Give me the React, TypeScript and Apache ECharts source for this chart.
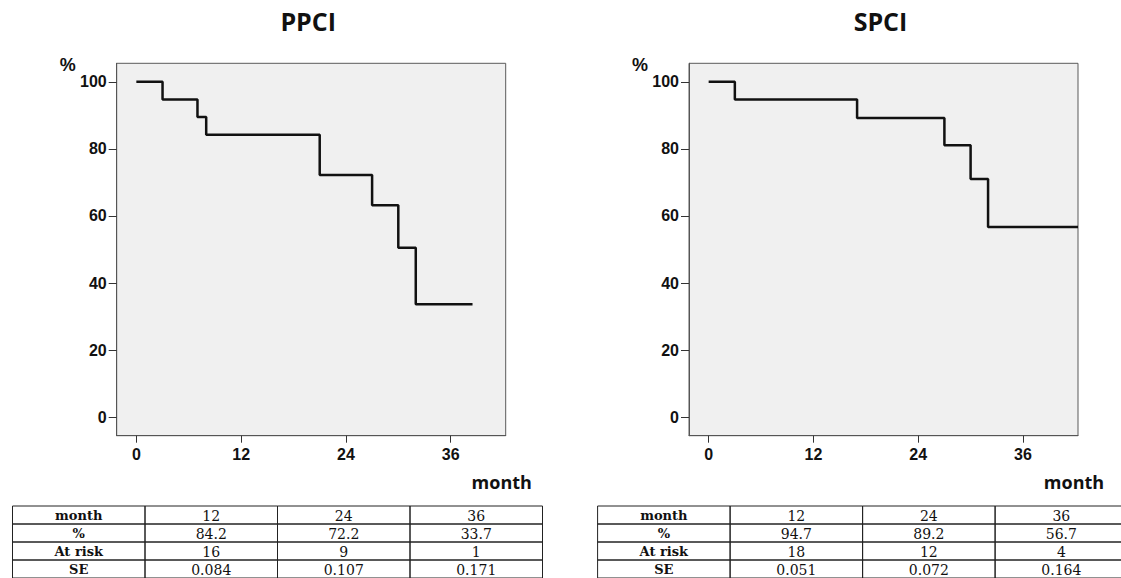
import React, { useEffect, useRef } from "react";
import * as echarts from "echarts";

// ---- data ----
const xTicks = [0, 12, 24, 36];
const yTicks = [0, 20, 40, 60, 80, 100];

const ppciMonths = [0, 3, 7, 8, 21, 27, 30, 32, 38.5];
const ppciSurvival = [100, 94.7, 89.5, 84.2, 72.2, 63.2, 50.5, 33.7, 33.7];

const spciMonths = [0, 3, 17, 27, 30, 32, 42.3];
const spciSurvival = [100, 94.7, 89.2, 81.1, 71.0, 56.7, 56.7];

const tableRowLabels = ["month", "%", "At risk", "SE"];
const tableMonths = ["12", "24", "36"];
const ppciPercent = ["84.2", "72.2", "33.7"];
const ppciAtRisk = ["16", "9", "1"];
const ppciSE = ["0.084", "0.107", "0.171"];
const spciPercent = ["94.7", "89.2", "56.7"];
const spciAtRisk = ["18", "12", "4"];
const spciSE = ["0.051", "0.072", "0.164"];

const titles = ["PPCI", "SPCI"];

// ---- layout ----
const W = 1121;
const H = 578;
const gridTop = 63.3;
const gridHeight = 372.4;
const gridWidth = 389;
const gridLefts = [116.7, 689];
const tableLefts = [12.5, 597.6];
const colW = 132.5;
const tableTop = 506;
const rowH = 18;

const tickFont = {
  fontFamily: "Liberation Sans, Arial, sans-serif",
  fontWeight: "bold" as const,
  fontSize: 16,
  color: "#111",
};

function buildTable(x0: number, rows: string[][]) {
  const els: any[] = [];
  rows.forEach((row, r) => {
    row.forEach((cell, c) => {
      const x = x0 + c * colW;
      const y = tableTop + r * rowH;
      els.push({
        type: "rect",
        shape: { x, y, width: colW, height: rowH },
        style: { fill: "none", stroke: "#222", lineWidth: 1 },
        silent: true,
      });
      els.push({
        type: "text",
        x: x + colW / 2,
        y: y + rowH / 2 + 0.5,
        style: {
          text: cell,
          align: "center",
          verticalAlign: "middle",
          fontFamily: "DejaVu Serif, serif",
          fontSize: c === 0 ? 13 : 14,
          fontWeight: c === 0 ? "bold" : "normal",
          fill: "#111",
        },
        silent: true,
      });
    });
  });
  return els;
}

export default function App() {
  const ref = useRef<HTMLDivElement>(null);

  useEffect(() => {
    if (!ref.current) return;
    const chart = echarts.init(ref.current, undefined, { renderer: "svg" });

    const ppciRows = [
      [tableRowLabels[0], ...tableMonths],
      [tableRowLabels[1], ...ppciPercent],
      [tableRowLabels[2], ...ppciAtRisk],
      [tableRowLabels[3], ...ppciSE],
    ];
    const spciRows = [
      [tableRowLabels[0], ...tableMonths],
      [tableRowLabels[1], ...spciPercent],
      [tableRowLabels[2], ...spciAtRisk],
      [tableRowLabels[3], ...spciSE],
    ];

    const graphic: any[] = [];
    gridLefts.forEach((gl, i) => {
      graphic.push({
        type: "text",
        x: gl + gridWidth / 2 - 3,
        y: 21,
        style: {
          text: titles[i],
          align: "center",
          verticalAlign: "middle",
          fontFamily: "Open Sans, sans-serif",
          fontWeight: "bold",
          fontSize: 25,
          fill: "#111",
        },
        silent: true,
      });
      graphic.push({
        type: "text",
        x: gl - 57,
        y: 64.5,
        style: {
          text: "%",
          align: "left",
          verticalAlign: "middle",
          fontFamily: "Liberation Sans, Arial, sans-serif",
          fontWeight: "bold",
          fontSize: 18,
          fill: "#111",
        },
        silent: true,
      });
      graphic.push({
        type: "text",
        x: gl + gridWidth - 4,
        y: 482,
        style: {
          text: "month",
          align: "center",
          verticalAlign: "middle",
          fontFamily: "Open Sans, sans-serif",
          fontWeight: "bold",
          fontSize: 18,
          fill: "#111",
        },
        silent: true,
      });
    });
    graphic.push(...buildTable(tableLefts[0], ppciRows));
    graphic.push(...buildTable(tableLefts[1], spciRows));

    const mkX = (gi: number) => ({
      type: "value",
      gridIndex: gi,
      min: -2.25,
      max: 42.3,
      splitLine: { show: false },
      axisLine: { show: true, onZero: false, lineStyle: { color: "#555", width: 1 } },
      axisTick: {
        show: true,
        length: 7,
        customValues: xTicks,
        lineStyle: { color: "#333", width: 1 },
      },
      axisLabel: { ...tickFont, margin: 11, customValues: xTicks },
    });
    const mkY = (gi: number) => ({
      type: "value",
      gridIndex: gi,
      min: -5.5,
      max: 105.5,
      splitLine: { show: false },
      axisLine: { show: true, onZero: false, lineStyle: { color: "#555", width: 1 } },
      axisTick: {
        show: true,
        length: 8,
        customValues: yTicks,
        lineStyle: { color: "#333", width: 1 },
      },
      axisLabel: { ...tickFont, margin: 10, customValues: yTicks },
    });

    chart.setOption({
      animation: false,
      backgroundColor: "#fff",
      grid: gridLefts.map((gl) => ({
        left: gl,
        top: gridTop,
        width: gridWidth,
        height: gridHeight,
        show: true,
        backgroundColor: "#f0f0f0",
        borderColor: "#5a5a5a",
        borderWidth: 1,
      })),
      xAxis: [mkX(0), mkX(1)],
      yAxis: [mkY(0), mkY(1)],
      series: [
        {
          type: "line",
          xAxisIndex: 0,
          yAxisIndex: 0,
          step: "end",
          symbol: "none",
          data: ppciMonths.map((m, i) => [m, ppciSurvival[i]]),
          lineStyle: { color: "#111", width: 2.5 },
        },
        {
          type: "line",
          xAxisIndex: 1,
          yAxisIndex: 1,
          step: "end",
          symbol: "none",
          data: spciMonths.map((m, i) => [m, spciSurvival[i]]),
          lineStyle: { color: "#111", width: 2.5 },
        },
      ],
      graphic,
    });

    return () => chart.dispose();
  }, []);

  return (
    <div
      ref={ref}
      style={{ position: "fixed", left: 0, top: 0, width: W, height: H, background: "#fff" }}
    />
  );
}
